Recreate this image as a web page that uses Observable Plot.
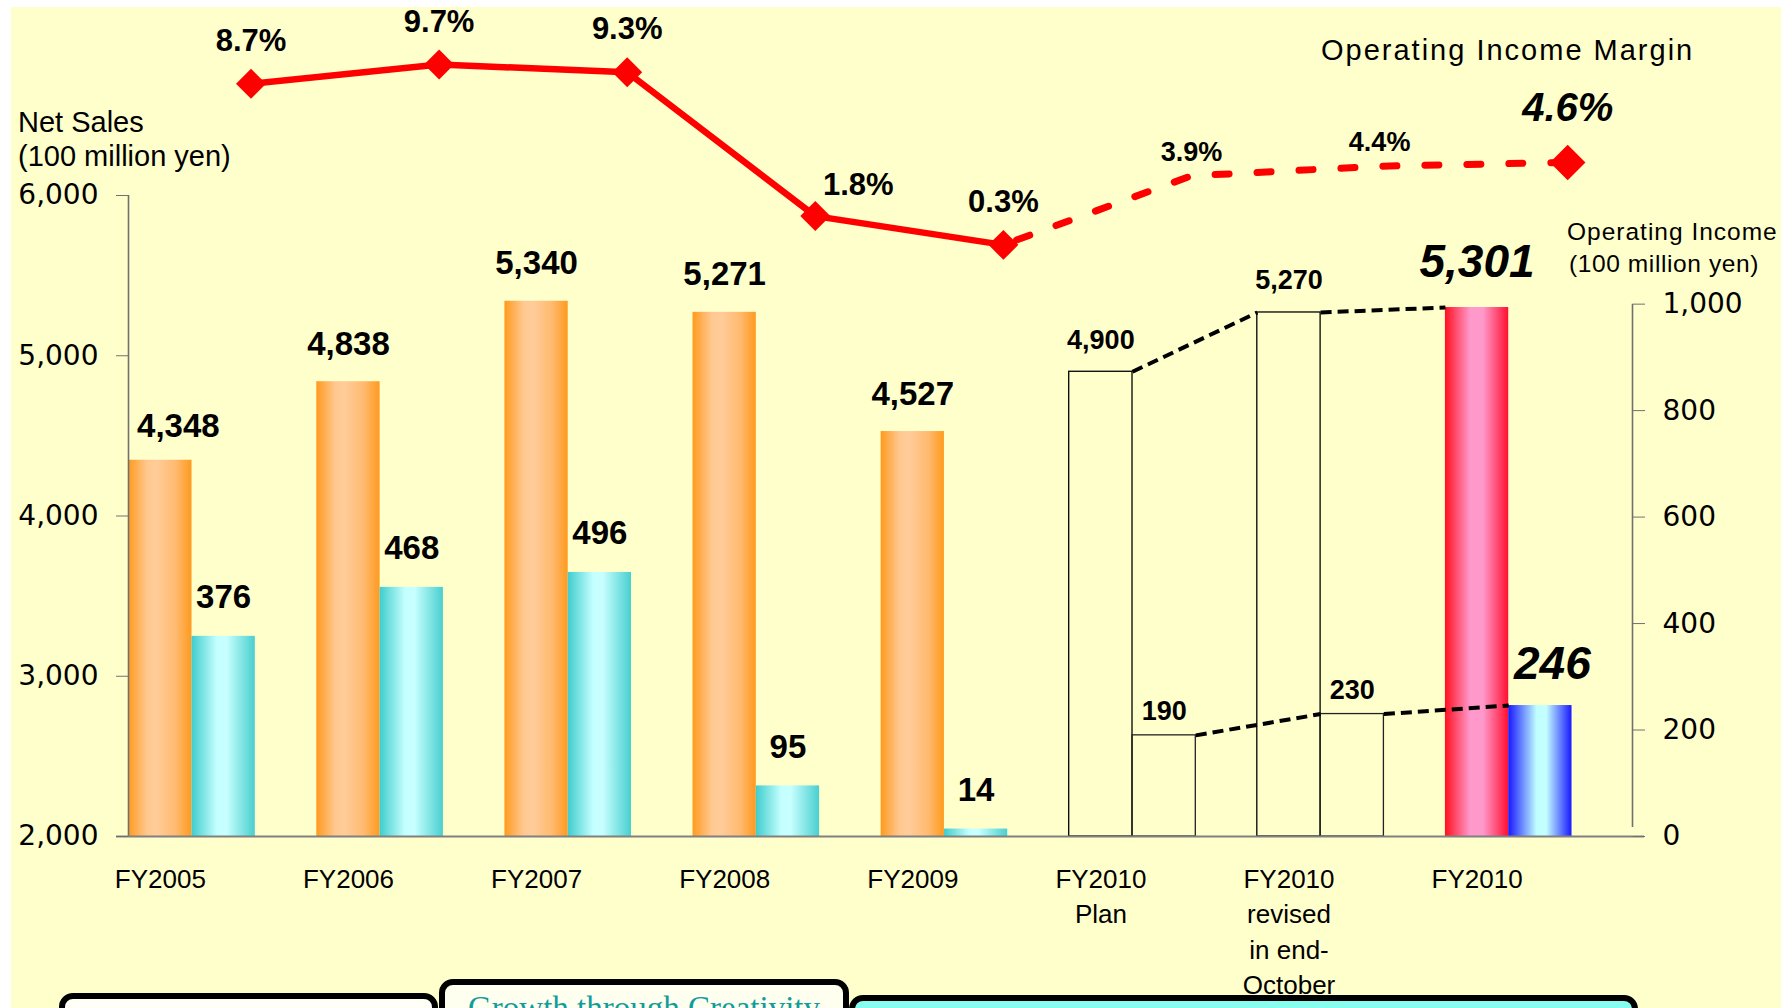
<!DOCTYPE html>
<html>
<head>
<meta charset="utf-8">
<script src="https://cdn.jsdelivr.net/npm/d3@7"></script>
<script src="https://cdn.jsdelivr.net/npm/@observablehq/plot@0.6"></script>
<style>
html, body { margin: 0; padding: 0; background: #ffffff; }
#page { position: relative; width: 1785px; height: 1008px; overflow: hidden; background: #ffffff; }
#bg { position: absolute; left: 11px; top: 7px; width: 1770px; height: 1001px; background: #FFFFCC; }
.box { position: absolute; border: 6px solid #000; border-radius: 14px; box-sizing: border-box; height: 90px; }
#chart { position: absolute; left: 0; top: 0; }
.ttl { position: absolute; font-family: "Liberation Sans", Arial, sans-serif; color: #000; white-space: nowrap; line-height: 1; }
</style>
</head>
<body>
<div id="page">
  <div id="bg"></div>
  <div class="box" style="left:59px; top:993px; width:379px; background:#FFFFF8;"></div>
  <div class="box" style="left:849px; top:995px; width:789px; background:#88FFEE;"></div>
  <div class="box" style="left:439px; top:979px; width:410px; background:#FFFFF0;">
    <div style="position:absolute; left:0; right:0; top:7px; text-align:center; font-family:'Liberation Serif','DejaVu Serif',serif; font-size:33px; line-height:1; color:#129C9C; white-space:nowrap;">Growth through Creativity</div>
  </div>
  <div id="chart"></div>
  <div class="ttl" style="left:18px; top:107.5px; font-size:29px;">Net Sales</div>
  <div class="ttl" style="left:18px; top:141.5px; font-size:29px;">(100 million yen)</div>
  <div class="ttl" style="left:1321px; top:35.5px; font-size:29px; letter-spacing:2px;">Operating Income Margin</div>
  <div class="ttl" style="left:1567px; top:220px; font-size:24.5px; letter-spacing:1px;">Operating Income</div>
  <div class="ttl" style="left:1569px; top:252px; font-size:24.5px; letter-spacing:0.6px;">(100 million yen)</div>
</div>
<script>
// ---------- data ----------
const categories = ["FY2005", "FY2006", "FY2007", "FY2008", "FY2009", "FY2010\nPlan", "FY2010\nrevised\nin end-\nOctober", "FY2010"];
const kinds = ["actual", "actual", "actual", "actual", "actual", "plan", "plan", "latest"];
const netSales = [4348, 4838, 5340, 5271, 4527, 4900, 5270, 5301];
const operatingIncome = [376, 468, 496, 95, 14, 190, 230, 246];
const operatingMargin = [8.7, 9.7, 9.3, 1.8, 0.3, 3.9, 4.4, 4.6];
const salesTicks = [2000, 3000, 4000, 5000, 6000];
const incomeTicks = [0, 200, 400, 600, 800, 1000];

// ---------- scale helpers (secondary axes mapped onto the primary y scale) ----------
const W = 0.3365;                 // half group width, in category units
const K = 3.322;                  // net-sales units per operating-income unit
const M0 = 5656, M1 = 119.7;      // operating-margin (%) placement on the primary scale
const incomeY = v => 2000 + v * K;
const marginY = m => M0 + m * M1;
const LINE_DX = 59;
const fmt = d3.format(",");

const rows = categories.map((c, i) => ({
  i, label: c, kind: kinds[i], sales: netSales[i], income: operatingIncome[i], margin: operatingMargin[i]
}));
const actual = rows.filter(d => d.kind === "actual");
const plan = rows.filter(d => d.kind === "plan");
const latest = rows.filter(d => d.kind === "latest");
const connect = rows.filter(d => d.kind !== "actual" && d.i < rows.length - 1);
const solidLine = rows.filter(d => d.kind === "actual");
const dashedLine = rows.filter(d => d.i >= 4);
const xDomain = [-0.3376, 7.6581];

const bold = { fontFamily: "Liberation Sans, Arial, sans-serif", fontWeight: "bold", fill: "#000", lineAnchor: "bottom" };

const plot = Plot.plot({
  width: 1785,
  height: 1008,
  marginLeft: 128,
  marginRight: 153,
  marginTop: 195,
  marginBottom: 172,
  x: { type: "linear", domain: xDomain, axis: null },
  y: { domain: [2000, 6000], axis: null },
  style: { background: "transparent", fontFamily: "DejaVu Sans, sans-serif", overflow: "visible" },
  marks: [
    // bars
    Plot.rect(actual, { x1: d => d.i - W, x2: d => d.i, y1: 2000, y2: "sales", fill: "url(#gOrange)" }),
    Plot.rect(actual, { x1: d => d.i, x2: d => d.i + W, y1: 2000, y2: d => incomeY(d.income), fill: "url(#gCyan)" }),
    Plot.rect(plan, { x1: d => d.i - W, x2: d => d.i, y1: 2000, y2: "sales", fill: "none", stroke: "#000", strokeWidth: 1.3 }),
    Plot.rect(plan, { x1: d => d.i, x2: d => d.i + W, y1: 2000, y2: d => incomeY(d.income), fill: "none", stroke: "#222", strokeWidth: 1.3 }),
    Plot.rect(latest, { x1: d => d.i - W, x2: d => d.i, y1: 2000, y2: "sales", fill: "url(#gRed)" }),
    Plot.rect(latest, { x1: d => d.i, x2: d => d.i + W, y1: 2000, y2: d => incomeY(d.income), fill: "url(#gBlue)" }),

    // dashed connectors between plan / revised / latest
    Plot.link(connect, { x1: d => d.i, y1: "sales", x2: d => d.i + 1 - W, y2: d => rows[d.i + 1].sales,
      stroke: "#000", strokeWidth: 4, strokeDasharray: "11 6" }),
    Plot.link(connect, { x1: d => d.i + W, y1: d => incomeY(d.income), x2: d => d.i + 1, y2: d => incomeY(rows[d.i + 1].income),
      stroke: "#000", strokeWidth: 4, strokeDasharray: "11 6" }),

    // axis lines
    Plot.ruleX([xDomain[0]], { y1: 2000, y2: 6000, stroke: "#707070", strokeWidth: 1.6 }),
    Plot.ruleX([xDomain[1]], { y1: incomeY(0), y2: incomeY(1000), insetTop: -9, stroke: "#707070", strokeWidth: 1.6 }),
    Plot.ruleY([2000], { insetLeft: -12, insetRight: -12, stroke: "#808080", strokeWidth: 2 }),

    Plot.axisY({ anchor: "left", label: null, ticks: salesTicks, tickFormat: fmt, tickSize: 12, tickPadding: 18,
      fontSize: 28, stroke: "#707070", fill: "#000" }),
    Plot.axisY({ anchor: "right", label: null, ticks: incomeTicks.map(incomeY), tickFormat: y => fmt(Math.round((y - 2000) / K)),
      tickSize: 12, tickPadding: 18, fontSize: 28, stroke: "#707070", fill: "#000" }),
    Plot.axisX({ label: null, ticks: rows.map(d => d.i), tickFormat: i => categories[i], tickSize: 0, tickPadding: 26.5,
      dx: -31.6, fontSize: 26, fontFamily: "Liberation Sans, Arial, sans-serif", lineHeight: 1.36, fill: "#000" }),

    // value labels: net sales
    Plot.text(actual.filter(d => d.i > 0), { x: d => d.i - W / 2, y: "sales", text: d => fmt(d.sales), dy: -27, fontSize: 33, ...bold, ariaLabel: "sales-label" }),
    Plot.text(actual.filter(d => d.i === 0), { x: d => d.i - W / 2, y: "sales", text: d => fmt(d.sales), dx: 18, dy: -23, fontSize: 33, ...bold, ariaLabel: "sales-label" }),
    Plot.text(plan, { x: d => d.i - W / 2, y: "sales", text: d => fmt(d.sales), dy: -23, fontSize: 27, ...bold, ariaLabel: "plan-label" }),
    Plot.text(latest, { x: d => d.i - W / 2, y: "sales", text: d => fmt(d.sales), dy: -31, fontSize: 46, fontStyle: "italic", ...bold, ariaLabel: "latest-label" }),
    // value labels: operating income
    Plot.text(actual, { x: d => d.i + W / 2, y: d => incomeY(d.income), text: d => fmt(d.income), dy: -28, fontSize: 33, ...bold, ariaLabel: "sales-label" }),
    Plot.text(plan, { x: d => d.i + W / 2, y: d => incomeY(d.income), text: d => fmt(d.income), dy: -15, fontSize: 27, ...bold, ariaLabel: "plan-label" }),
    Plot.text(latest, { x: d => d.i + W / 2, y: d => incomeY(d.income), text: d => fmt(d.income), dx: 12, dy: -27, fontSize: 46, fontStyle: "italic", ...bold, ariaLabel: "latest-income-label" }),

    // operating income margin line
    Plot.line(solidLine, { x: "i", y: d => marginY(d.margin), stroke: "#FF0000", strokeWidth: 6.5, dx: LINE_DX }),
    Plot.line(dashedLine, { x: "i", y: d => marginY(d.margin), stroke: "#FF0000", strokeWidth: 7, strokeDasharray: "14 28", strokeDashoffset: -14, dx: LINE_DX }),
    Plot.dot(actual, { x: "i", y: d => marginY(d.margin), symbol: "diamond2", r: 13.5, fill: "#FF0000", dx: LINE_DX }),
    Plot.dot(latest, { x: "i", y: d => marginY(d.margin), symbol: "diamond2", r: 16, fill: "#FF0000", dx: LINE_DX }),

    Plot.text(actual.filter(d => d.i !== 3), { x: "i", y: d => marginY(d.margin), text: d => d.margin.toFixed(1) + "%", dx: LINE_DX, dy: -33, fontSize: 31, ...bold, ariaLabel: "margin-label" }),
    Plot.text(actual.filter(d => d.i === 3), { x: "i", y: d => marginY(d.margin), text: d => d.margin.toFixed(1) + "%", dx: LINE_DX + 43, dy: -21, fontSize: 31, ...bold, ariaLabel: "margin-label" }),
    Plot.text(plan, { x: "i", y: d => marginY(d.margin), text: d => d.margin.toFixed(1) + "%", dx: LINE_DX, dy: -15, fontSize: 27, ...bold, ariaLabel: "margin-plan-label" }),
    Plot.text(latest, { x: "i", y: d => marginY(d.margin), text: d => d.margin.toFixed(1) + "%", dx: LINE_DX, dy: -41, fontSize: 40, fontStyle: "italic", ...bold, ariaLabel: "margin-latest-label" })
  ]
});

// gradients for the bars
const svg = d3.select(plot);
const defs = svg.insert("defs", ":first-child");
function grad(id, stops) {
  const g = defs.append("linearGradient").attr("id", id).attr("x1", "0").attr("x2", "1").attr("y1", "0").attr("y2", "0");
  stops.forEach(([o, c]) => g.append("stop").attr("offset", o).attr("stop-color", c));
}
grad("gOrange", [[0, "#FF9A1E"], [0.3, "#FFC890"], [0.45, "#FFCC99"], [0.75, "#FFBA70"], [1, "#FF9A1E"]]);
grad("gCyan", [[0, "#40CCCC"], [0.4, "#C4FFFF"], [0.55, "#C8FFFF"], [1, "#48CFCF"]]);
grad("gRed", [[0, "#FF1020"], [0.4, "#FF99CC"], [0.6, "#FF99CC"], [1, "#FF1030"]]);
grad("gBlue", [[0, "#1818FF"], [0.45, "#C0FFFF"], [0.6, "#C4FFFF"], [1, "#1818FF"]]);

svg.selectAll('g[aria-label="sales-label"]').attr("letter-spacing", "1.5px");
svg.selectAll('g[aria-label="plan-label"]').attr("letter-spacing", "2.5px");
svg.selectAll('g[aria-label="latest-label"]').attr("letter-spacing", "1px");
svg.selectAll('g[aria-label="latest-income-label"]').attr("letter-spacing", "3px");
svg.selectAll('g[aria-label="margin-label"]').attr("letter-spacing", "0.5px");
svg.selectAll('g[aria-label="margin-plan-label"]').attr("letter-spacing", "0.5px");

document.getElementById("chart").appendChild(plot);
</script>
</body>
</html>
